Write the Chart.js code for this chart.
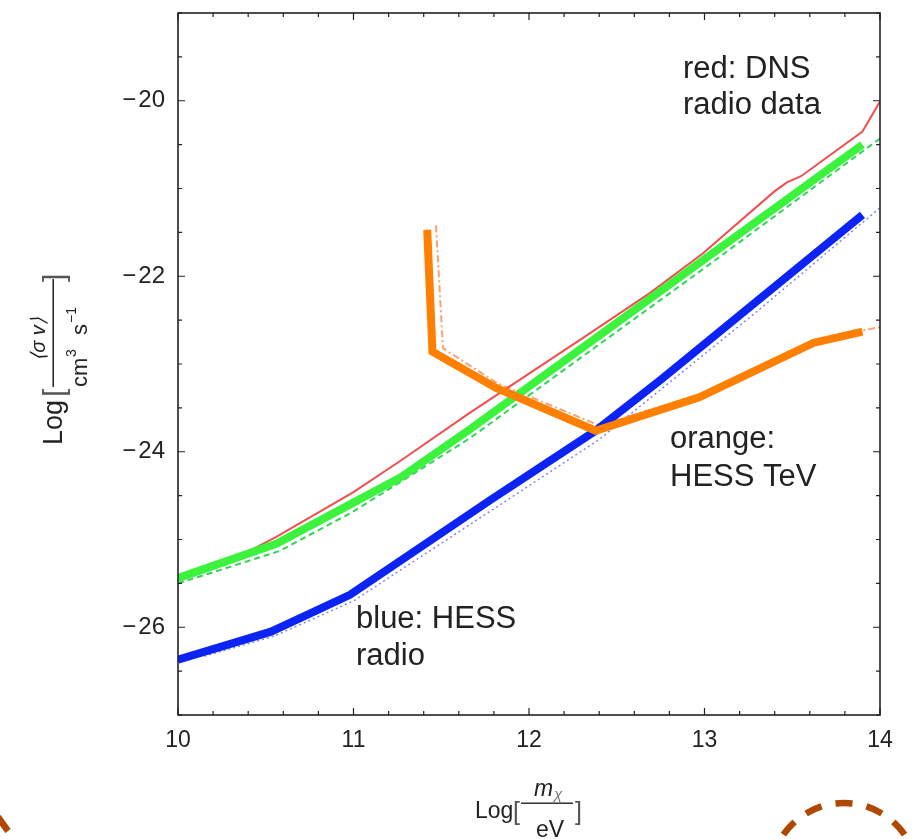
<!DOCTYPE html>
<html>
<head>
<meta charset="utf-8">
<script src="https://cdn.jsdelivr.net/npm/chart.js@4.4.0/dist/chart.umd.min.js"></script>
<style>
  html, body { margin: 0; padding: 0; background: #fff; }
  #wrap { width: 913px; height: 839px; }
</style>
</head>
<body>
<div id="wrap"><canvas id="mycanvas" width="913" height="839"></canvas></div>
<script>
/* tick labels */
var xTicks = [10, 11, 12, 13, 14];
var yTicks = [-26, -24, -22, -20];

/* thick curves */
var orangeX = [11.42, 11.45, 11.81, 12.38, 12.97, 13.62, 13.90];
var orangeY = [-21.47, -22.86, -23.27, -23.76, -23.38, -22.76, -22.63];
var blueX = [10.00, 10.53, 10.98, 11.78, 12.38, 12.75, 13.90];
var blueY = [-26.37, -26.05, -25.63, -24.55, -23.76, -23.18, -21.30];
var greenX = [10.00, 10.56, 11.00, 11.27, 11.66, 12.97, 13.90];
var greenY = [-25.44, -25.05, -24.58, -24.29, -23.75, -21.85, -20.50];

/* thin curves */
var redX = [10.35, 10.56, 11.00, 11.27, 11.66, 12.31, 12.69, 12.99, 13.40, 13.47, 13.55, 13.90, 14.00];
var redY = [-25.19, -24.97, -24.46, -24.10, -23.56, -22.70, -22.19, -21.74, -21.03, -20.93, -20.86, -20.35, -20.01];
var greenDashX = [10.00, 10.58, 11.00, 11.66, 12.97, 14.00];
var greenDashY = [-25.50, -25.13, -24.68, -23.85, -21.95, -20.43];
var blueDotX = [10.15, 10.55, 11.00, 11.80, 12.40, 13.30, 14.00];
var blueDotY = [-26.33, -26.10, -25.70, -24.65, -23.86, -22.40, -21.22];
var orangeDotX = [11.47, 11.51, 11.82, 12.40, 13.00, 13.63, 14.00];
var orangeDotY = [-21.42, -22.82, -23.22, -23.70, -23.33, -22.72, -22.58];

function pts(xs, ys) {
	var out = [];
	for (var i in xs) {
		out.push({ x: xs[i], y: ys[i] });
	}
	return out;
}

var FONT = "'Liberation Sans', Arial, sans-serif";

function minus(v) {
	return v < 0 ? '\u2212\u200A' + Math.abs(v) : '' + v;
}

/* frame with inward ticks on all four sides */
var framePlugin = {
	id: 'frame',
	afterDatasetsDraw: function(chart) {
		var ctx = chart.ctx, a = chart.chartArea;
		var x = chart.scales.x, y = chart.scales.y;
		ctx.save();
		ctx.strokeStyle = '#222';
		ctx.lineWidth = 1.6;
		ctx.strokeRect(a.left, a.top, a.right - a.left, a.bottom - a.top);
		ctx.lineWidth = 1.2;
		ctx.beginPath();
		for (var i = 0; i <= 20; i++) {
			var px = x.getPixelForValue(10 + i * 0.2);
			var len = (i % 5 === 0) ? 7 : 4;
			ctx.moveTo(px, a.bottom); ctx.lineTo(px, a.bottom - len);
			ctx.moveTo(px, a.top); ctx.lineTo(px, a.top + len);
		}
		for (var j = 0; j <= 16; j++) {
			var v = -27 + j * 0.5;
			var py = y.getPixelForValue(v);
			var len2 = (v % 2 === 0) ? 7 : 4;
			ctx.moveTo(a.left, py); ctx.lineTo(a.left + len2, py);
			ctx.moveTo(a.right, py); ctx.lineTo(a.right - len2, py);
		}
		ctx.stroke();
		ctx.restore();
	}
};

/* notes, axis titles and the decorations at the bottom */
var notesPlugin = {
	id: 'notes',
	afterDraw: function(chart) {
		var ctx = chart.ctx;
		ctx.save();
		ctx.fillStyle = '#222';
		ctx.textAlign = 'left';
		ctx.textBaseline = 'alphabetic';
		ctx.font = '31px ' + FONT;
		ctx.fillText('red: DNS', 683, 78);
		ctx.fillText('radio data', 683, 114);
		ctx.fillText('orange:', 670, 448);
		ctx.fillText('HESS TeV', 670, 486);
		ctx.fillText('blue: HESS', 356, 628);
		ctx.fillText('radio', 356, 665);

		/* y title */
		ctx.save();
		ctx.translate(62, 445);
		ctx.rotate(-Math.PI / 2);
		ctx.font = '27px ' + FONT;
		ctx.fillText('Log', 0, 0);
		ctx.font = '30px ' + FONT;
		ctx.fillStyle = '#555';
		ctx.fillText('[', 48, 2);
		ctx.fillText(']', 163, 2);
		ctx.fillStyle = '#222';
		ctx.fillRect(58, -9.5, 108, 1.5);
		ctx.textAlign = 'center';
		ctx.font = 'italic 20px ' + FONT;
		ctx.fillText('\u27E8\u03C3 v\u27E9', 106, -17);
		ctx.textAlign = 'left';
		ctx.font = '22px ' + FONT;
		ctx.fillText('cm', 58, 25);
		ctx.font = '14px ' + FONT;
		ctx.fillText('3', 88, 14);
		ctx.font = '22px ' + FONT;
		ctx.fillText('s', 110, 25);
		ctx.font = '14px ' + FONT;
		ctx.fillText('\u22121', 122, 14);
		ctx.restore();

		/* x title */
		ctx.font = '23px ' + FONT;
		ctx.fillText('Log', 475, 818);
		ctx.fillStyle = '#555';
		ctx.font = '25px ' + FONT;
		ctx.fillText('[', 513, 820);
		ctx.fillText(']', 575, 820);
		ctx.fillStyle = '#222';
		ctx.fillRect(521, 802.5, 52, 1.4);
		ctx.font = 'italic 23px ' + FONT;
		ctx.fillText('m', 534, 796);
		ctx.fillStyle = '#777';
		ctx.font = 'italic 15px ' + FONT;
		ctx.fillText('\u03C7', 554, 799);
		ctx.fillStyle = '#222';
		ctx.font = '23px ' + FONT;
		ctx.fillText('eV', 536, 837);

		/* brown dashed circles cut by the lower edge */
		ctx.strokeStyle = '#b04800';
		ctx.lineWidth = 6.5;
		ctx.lineCap = 'butt';
		var step = 24.2 * Math.PI / 180, half = 8.5 / 74;
		for (var k = -3; k <= 3; k++) {
			var c = -Math.PI / 2 + k * step;
			ctx.beginPath();
			ctx.arc(844, 877, 74, c - half, c + half);
			ctx.stroke();
		}
		ctx.beginPath();
		ctx.moveTo(-2, 817);
		ctx.lineTo(8, 831);
		ctx.stroke();
		ctx.restore();
	}
};

var ctx = document.getElementById('mycanvas');
var chart = new Chart(ctx, {
	type: 'line',
	data: {
		datasets: [
			{ label: 'orange', data: pts(orangeX, orangeY), borderColor: '#ff7f00', borderWidth: 8 },
			{ label: 'blue', data: pts(blueX, blueY), borderColor: '#0b24f5', borderWidth: 8 },
			{ label: 'green', data: pts(greenX, greenY), borderColor: '#3cf23c', borderWidth: 8 },
			{ label: 'red', data: pts(redX, redY), borderColor: 'rgba(238,60,60,0.9)', borderWidth: 2 },
			{ label: 'green dashed', data: pts(greenDashX, greenDashY), borderColor: '#2fd45a', borderWidth: 2, borderDash: [6, 4] },
			{ label: 'blue dotted', data: pts(blueDotX, blueDotY), borderColor: '#7a88f0', borderWidth: 1.5, borderDash: [2, 3] },
			{ label: 'orange dotdash', data: pts(orangeDotX, orangeDotY), borderColor: '#ffa070', borderWidth: 2, borderDash: [7, 3, 2, 3] }
		]
	},
	options: {
		responsive: false,
		animation: false,
		layout: { padding: { top: 13, right: 33, left: 0, bottom: 0 } },
		plugins: { legend: { display: false }, tooltip: { enabled: false } },
		elements: { point: { radius: 0 }, line: { tension: 0, borderCapStyle: 'butt', borderJoinStyle: 'miter' } },
		scales: {
			x: {
				type: 'linear', min: 10, max: 14,
				grid: { display: false, drawTicks: false },
				border: { display: false },
				ticks: { color: '#222', padding: 12, font: { family: FONT, size: 23 }, callback: minus },
				afterBuildTicks: function(s) { s.ticks = xTicks.map(function(v) { return { value: v }; }); },
				afterFit: function(s) { s.height = 124; s.paddingLeft = 0; s.paddingRight = 0; }
			},
			y: {
				type: 'linear', min: -27, max: -19,
				grid: { display: false, drawTicks: false },
				border: { display: false },
				ticks: { color: '#222', padding: 13, font: { family: FONT, size: 24 }, callback: minus },
				afterBuildTicks: function(s) { s.ticks = yTicks.map(function(v) { return { value: v }; }); },
				afterFit: function(s) { s.width = 178; s.paddingTop = 0; s.paddingBottom = 0; }
			}
		}
	},
	plugins: [framePlugin, notesPlugin]
});
</script>
</body>
</html>
